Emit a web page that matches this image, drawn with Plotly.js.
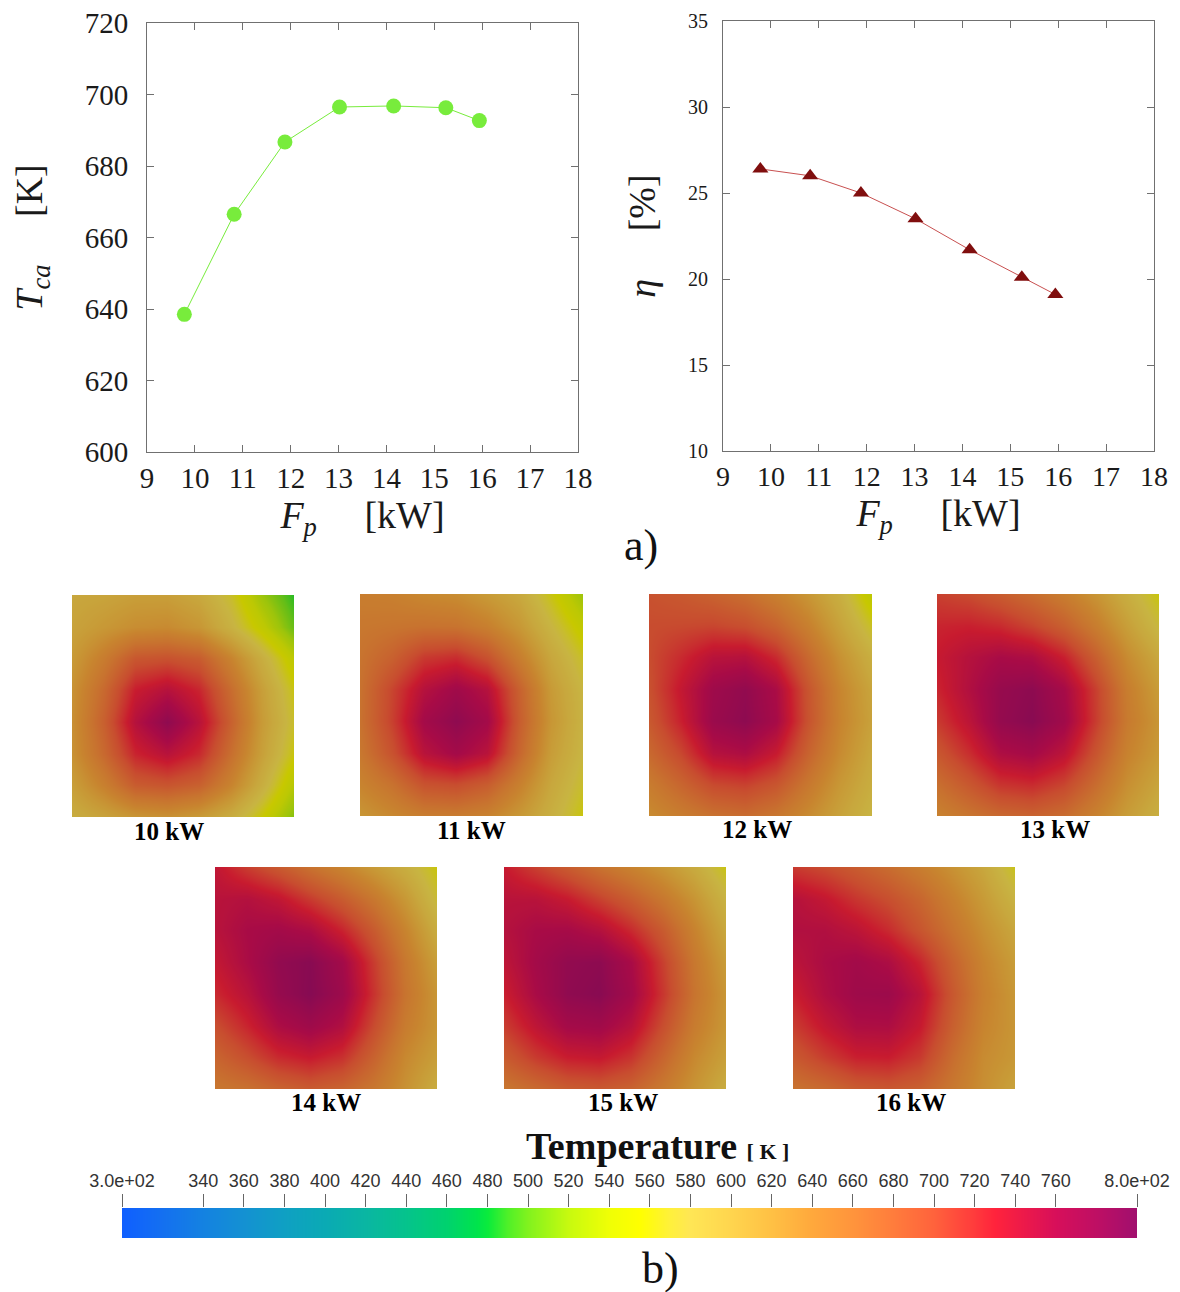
<!DOCTYPE html>
<html>
<head>
<meta charset="utf-8">
<script src="https://cdn.plot.ly/plotly-3.0.1.min.js"></script>
<style>html,body{margin:0;padding:0;background:#fff;}#chart{width:1180px;height:1292px;}</style>
</head>
<body>
<div id="chart"></div>
<script>
// ---------- data: line charts ----------
const Fp  = [9.78, 10.82, 11.88, 13.02, 14.15, 15.24, 15.94];      // kW
const Tca = [638.5, 666.5, 686.7, 696.5, 696.8, 696.3, 692.7];     // K
const eta = [26.4, 26.0, 25.0, 23.5, 21.7, 20.1, 19.1];            // %

// ---------- data: temperature maps (K), rows top -> bottom ----------
const gridX = [0, 1, 2, 3, 4, 5, 6, 7];
const gridY = [0, 1, 2, 3, 4, 5, 6, 7];
const hm10 = [
  [600, 603, 610, 610, 598, 568, 520, 485],
  [605, 618, 630, 633, 620, 585, 545, 500],
  [615, 650, 690, 695, 685, 640, 590, 540],
  [625, 672, 730, 748, 725, 668, 610, 560],
  [628, 682, 748, 785, 745, 680, 615, 568],
  [625, 672, 725, 745, 722, 665, 608, 558],
  [610, 645, 685, 692, 680, 640, 590, 535],
  [592, 605, 620, 625, 615, 592, 555, 510]
];
const hm11 = [
  [648, 645, 635, 630, 615, 598, 560, 520],
  [655, 658, 662, 660, 645, 618, 580, 545],
  [660, 680, 712, 720, 695, 648, 600, 565],
  [662, 705, 748, 768, 748, 680, 615, 578],
  [662, 708, 765, 785, 765, 685, 620, 582],
  [655, 695, 745, 765, 745, 675, 612, 578],
  [640, 662, 695, 700, 685, 645, 600, 568],
  [620, 635, 648, 650, 642, 618, 588, 558]
];
const hm12 = [
  [695, 688, 678, 665, 645, 620, 588, 540],
  [700, 702, 705, 698, 678, 645, 605, 565],
  [700, 722, 745, 748, 722, 672, 625, 588],
  [696, 735, 770, 782, 758, 692, 638, 602],
  [688, 728, 774, 786, 762, 694, 640, 606],
  [672, 704, 748, 756, 732, 678, 632, 598],
  [650, 676, 702, 708, 692, 655, 618, 590],
  [632, 648, 662, 668, 656, 632, 605, 580]
];
const hm13 = [
  [708, 700, 685, 668, 648, 622, 590, 558],
  [725, 728, 722, 705, 682, 648, 610, 575],
  [732, 748, 760, 755, 728, 682, 632, 598],
  [725, 752, 778, 786, 762, 708, 648, 612],
  [712, 742, 780, 790, 768, 710, 652, 620],
  [690, 720, 755, 764, 742, 692, 642, 615],
  [665, 690, 716, 722, 705, 668, 628, 602],
  [642, 658, 672, 678, 668, 642, 612, 588]
];
const hm14 = [
  [738, 710, 688, 662, 640, 615, 590, 558],
  [745, 750, 738, 712, 686, 655, 618, 572],
  [745, 760, 765, 756, 726, 686, 640, 592],
  [735, 758, 782, 790, 766, 710, 655, 610],
  [722, 745, 778, 792, 772, 716, 660, 620],
  [698, 725, 756, 770, 752, 700, 650, 620],
  [676, 698, 722, 732, 718, 678, 635, 610],
  [655, 662, 676, 686, 676, 655, 625, 592]
];
const hm15 = [
  [732, 708, 686, 662, 642, 620, 595, 560],
  [745, 745, 732, 708, 684, 655, 622, 582],
  [748, 760, 762, 750, 722, 686, 642, 598],
  [740, 765, 782, 786, 760, 708, 655, 612],
  [728, 760, 784, 790, 766, 714, 660, 620],
  [710, 740, 764, 768, 746, 698, 650, 618],
  [686, 712, 730, 734, 716, 676, 635, 608],
  [656, 670, 684, 688, 678, 652, 622, 592]
];
const hm16 = [
  [712, 700, 685, 668, 648, 625, 600, 562],
  [748, 735, 715, 698, 675, 645, 615, 582],
  [752, 752, 742, 722, 692, 660, 628, 600],
  [742, 758, 766, 756, 725, 680, 640, 612],
  [728, 754, 770, 772, 744, 690, 645, 618],
  [710, 736, 755, 756, 732, 682, 640, 620],
  [688, 710, 728, 730, 712, 668, 632, 618],
  [660, 670, 685, 690, 680, 655, 628, 605]
];
const mapLabels = ['10 kW', '11 kW', '12 kW', '13 kW', '14 kW', '15 kW', '16 kW'];
const mapData = [hm10, hm11, hm12, hm13, hm14, hm15, hm16];

// ---------- colour bar ----------
const tempRange = [300, 800];
const cbTickVals = [300, 340, 360, 380, 400, 420, 440, 460, 480, 500, 520, 540, 560, 580, 600, 620, 640, 660, 680, 700, 720, 740, 760, 800];
const cbTickText = ['3.0e+02', '340', '360', '380', '400', '420', '440', '460', '480', '500', '520', '540', '560', '580', '600', '620', '640', '660', '680', '700', '720', '740', '760', '8.0e+02'];

// ---------- styling / layout ----------
const W = 1180, H = 1292;
const px = v => v / W;
const py = v => 1 - v / H;

const colorscale = [
  [0.00, 'rgb(15,95,255)'],  [0.04, 'rgb(20,112,240)'], [0.08, 'rgb(20,130,225)'],
  [0.12, 'rgb(20,145,210)'], [0.16, 'rgb(15,160,195)'], [0.20, 'rgb(10,170,180)'],
  [0.24, 'rgb(10,182,162)'], [0.28, 'rgb(5,195,140)'],  [0.32, 'rgb(0,210,110)'],
  [0.35, 'rgb(0,228,75)'],   [0.36, 'rgb(10,235,60)'],  [0.38, 'rgb(80,240,40)'],
  [0.40, 'rgb(130,242,30)'], [0.44, 'rgb(200,250,15)'], [0.48, 'rgb(240,255,5)'],
  [0.51, 'rgb(255,255,0)'],  [0.54, 'rgb(255,240,60)'], [0.56, 'rgb(255,230,85)'],
  [0.60, 'rgb(255,213,78)'], [0.64, 'rgb(255,192,68)'], [0.68, 'rgb(255,168,60)'],
  [0.72, 'rgb(255,148,60)'], [0.76, 'rgb(255,124,60)'], [0.80, 'rgb(255,98,60)'],
  [0.84, 'rgb(255,58,60)'],  [0.86, 'rgb(255,35,60)'],  [0.89, 'rgb(235,25,75)'],
  [0.92, 'rgb(215,15,90)'],  [0.96, 'rgb(190,15,100)'], [1.00, 'rgb(160,15,110)']
];

const serif = 'Liberation Serif, Times New Roman, serif';
const frameColor = '#707070';

function lineAxis(extra) {
  return Object.assign({
    showline: true, linecolor: frameColor, linewidth: 1, mirror: 'ticks',
    ticks: 'inside', ticklen: 7, tickcolor: frameColor, tickwidth: 1,
    showgrid: false, zeroline: false, fixedrange: true,
    tickfont: { family: serif, size: 29, color: '#1a1a1a' }
  }, extra);
}

const traces = [
  {
    type: 'scatter', mode: 'lines+markers', x: Fp, y: Tca, xaxis: 'x', yaxis: 'y',
    line: { color: 'rgb(120,236,60)', width: 1 },
    marker: { symbol: 'circle', size: 15, color: 'rgb(120,236,60)' },
    hoverinfo: 'x+y', showlegend: false
  },
  {
    type: 'scatter', mode: 'lines+markers', x: Fp, y: eta, xaxis: 'x2', yaxis: 'y2',
    line: { color: 'rgb(200,80,80)', width: 1 },
    marker: { symbol: 'triangle-up', size: 14, color: 'rgb(128,14,14)' },
    hoverinfo: 'x+y', showlegend: false
  }
];

const layout = {
  width: W, height: H,
  margin: { l: 0, r: 0, t: 0, b: 0 },
  paper_bgcolor: '#fff', plot_bgcolor: '#fff',
  showlegend: false,
  font: { family: serif, color: '#1a1a1a' },
  coloraxis: { cmin: 300, cmax: 800, colorscale: colorscale, showscale: false },
  xaxis: lineAxis({
    domain: [px(147), px(578)], anchor: 'y', range: [9, 18], tick0: 9, dtick: 1,
    title: { text: '<i>F</i><sub><i>p</i></sub>\u00a0\u00a0\u00a0\u00a0\u00a0[kW]', font: { family: serif, size: 38, color: '#1a1a1a' }, standoff: 6 }
  }),
  yaxis: lineAxis({
    domain: [py(452), py(23)], anchor: 'x', range: [600, 720], tick0: 600, dtick: 20,
    ticklabelstandoff: 12,
    title: { text: '<i>T</i><sub><i>ca</i></sub>\u00a0\u00a0\u00a0\u00a0\u00a0[K]', font: { family: serif, size: 38, color: '#1a1a1a' }, standoff: 30 }
  }),
  xaxis2: lineAxis({
    domain: [px(723), px(1154)], anchor: 'y2', range: [9, 18], tick0: 9, dtick: 1,
    tickfont: { family: serif, size: 28, color: '#1a1a1a' },
    title: { text: '<i>F</i><sub><i>p</i></sub>\u00a0\u00a0\u00a0\u00a0\u00a0[kW]', font: { family: serif, size: 38, color: '#1a1a1a' }, standoff: 6 }
  }),
  yaxis2: lineAxis({
    domain: [py(451), py(21)], anchor: 'x2', range: [10, 35], tick0: 10, dtick: 5,
    tickfont: { family: serif, size: 20, color: '#1a1a1a' }, ticklabelstandoff: 10,
    title: { text: '<i>η</i>\u00a0\u00a0\u00a0\u00a0\u00a0[%]', font: { family: serif, size: 38, color: '#1a1a1a' }, standoff: 20 }
  }),
  shapes: [],
  annotations: [
    { text: 'a)', x: px(641), y: py(545), xref: 'paper', yref: 'paper', showarrow: false,
      font: { family: serif, size: 44, color: '#111' }, xanchor: 'center', yanchor: 'middle' },
    { text: 'b)', x: px(660), y: py(1268), xref: 'paper', yref: 'paper', showarrow: false,
      font: { family: serif, size: 44, color: '#111' }, xanchor: 'center', yanchor: 'middle' },
    { text: '<b>Temperature</b> <b><span style="font-size:22px">[ K ]</span></b>', x: px(657), y: py(1146),
      xref: 'paper', yref: 'paper', showarrow: false,
      font: { family: serif, size: 38, color: '#111' }, xanchor: 'center', yanchor: 'middle' }
  ]
};

// map panel boxes (pixel positions of the reference figure)
const boxes = [
  { x0: 72,  x1: 294,  y0: 595, y1: 817, lx: 169, ly: 831 },
  { x0: 360, x1: 583,  y0: 594, y1: 816, lx: 471, ly: 830 },
  { x0: 649, x1: 872,  y0: 594, y1: 816, lx: 757, ly: 829 },
  { x0: 937, x1: 1159, y0: 594, y1: 816, lx: 1055, ly: 829 },
  { x0: 215, x1: 437,  y0: 867, y1: 1089, lx: 326, ly: 1102 },
  { x0: 504, x1: 726,  y0: 867, y1: 1089, lx: 623, ly: 1102 },
  { x0: 793, x1: 1015, y0: 867, y1: 1089, lx: 911, ly: 1102 }
];

boxes.forEach((b, i) => {
  const n = i + 3;
  const xa = 'xaxis' + n, ya = 'yaxis' + n;
  layout[xa] = { domain: [px(b.x0), px(b.x1)], anchor: 'y' + n, range: [0, 7], visible: false, fixedrange: true };
  layout[ya] = { domain: [py(b.y1), py(b.y0)], anchor: 'x' + n, range: [7, 0], visible: false, fixedrange: true };
  layout.shapes.push({ type: 'rect', xref: 'x' + n + ' domain', yref: 'y' + n + ' domain',
    x0: 0, x1: 1, y0: 0, y1: 1, fillcolor: '#000', line: { width: 0 }, layer: 'below' });
  traces.push({
    type: 'heatmap', z: mapData[i], x: gridX, y: gridY, xaxis: 'x' + n, yaxis: 'y' + n,
    zsmooth: 'best', coloraxis: 'coloraxis', opacity: 0.785, hoverinfo: 'z'
  });
  layout.annotations.push({
    text: '<b>' + mapLabels[i] + '</b>', x: px(b.lx), y: py(b.ly), xref: 'paper', yref: 'paper',
    showarrow: false, xanchor: 'center', yanchor: 'middle',
    font: { family: serif, size: 25, color: '#000' }
  });
});

// colour bar drawn as a gradient through the same colour scale
layout.xaxis10 = {
  domain: [px(122), px(1137)], anchor: 'y10', range: tempRange, side: 'top',
  tickvals: cbTickVals, ticktext: cbTickText, ticks: 'outside', ticklen: 13,
  tickcolor: '#666', tickwidth: 1, showline: false, showgrid: false, zeroline: false,
  tickfont: { family: 'Liberation Sans, Arial, sans-serif', size: 18, color: '#333' },
  fixedrange: true
};
layout.yaxis10 = { domain: [py(1238), py(1208)], anchor: 'x10', range: [0, 1], visible: false, fixedrange: true };
traces.push({
  type: 'heatmap', z: [tempRange, tempRange], x: tempRange, y: [0, 1],
  xaxis: 'x10', yaxis: 'y10', zsmooth: 'best', coloraxis: 'coloraxis', hoverinfo: 'x'
});

Plotly.newPlot('chart', traces, layout, { displayModeBar: false, staticPlot: false });
</script>
</body>
</html>
